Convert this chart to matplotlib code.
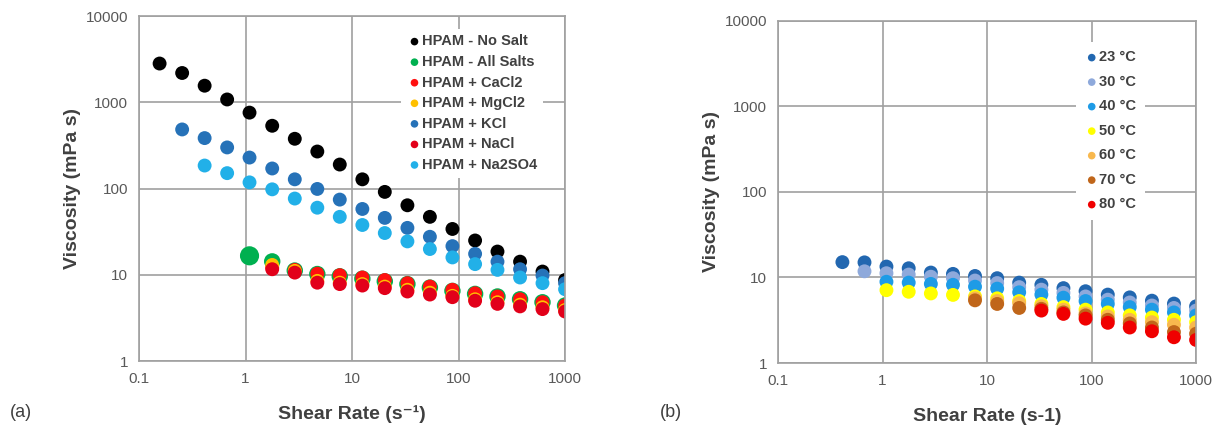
import matplotlib
matplotlib.use("Agg")
import matplotlib.pyplot as plt
from matplotlib.ticker import FixedLocator, FixedFormatter, NullLocator

plt.rcParams['font.family'] = ['Liberation Sans', 'DejaVu Sans']

# shear rates (s-1) used by the rheometer
shear = [0.156, 0.254, 0.413, 0.672, 1.09, 1.78, 2.90, 4.72, 7.67, 12.5,
         20.3, 33.1, 53.8, 87.6, 143, 232, 378, 614, 1000]

# ---- panel (a): HPAM with salts ----
no_salt = [2820, 2190, 1560, 1080, 760, 535, 378, 269, 190, 128,
           91.5, 64, 47, 34, 25, 18.6, 14.2, 10.9, 8.7]
all_salts = [16.6, 14.3, 11.2, 10.2, 9.6, 9.0, 8.4, 7.8, 7.1, 6.5,
             6.0, 5.6, 5.2, 4.8, 4.4]
cacl2 = [12.2, 11.4, 10.3, 9.9, 9.3, 8.7, 8.0, 7.3, 6.7, 6.1, 5.6, 5.2, 4.8, 4.4]
mgcl2 = [13.0, 11.1, 8.5, 8.1, 7.8, 7.3, 6.7, 6.2, 5.7, 5.2, 4.8, 4.5, 4.2, 3.9]
kcl = [485, 385, 300, 229, 171, 128, 99, 74.5, 58, 45.7,
       35, 27.6, 21.5, 17.5, 14.2, 11.6, 9.8, 8.0]
nacl = [11.6, 10.6, 8.1, 7.8, 7.5, 7.0, 6.4, 5.9, 5.5, 5.0, 4.6, 4.3, 4.0, 3.75]
na2so4 = [185, 151, 118, 98, 76.6, 60, 47, 37.8, 30.5, 24.4,
          19.9, 15.9, 13.3, 11.4, 9.3, 8.0, 6.8]

salt_series = [
    ("HPAM - No Salt", no_salt, "#000000"),
    ("HPAM - All Salts", all_salts, "#00B050"),
    ("HPAM + CaCl2", cacl2, "#FF1010"),
    ("HPAM + MgCl2", mgcl2, "#FFC000"),
    ("HPAM + KCl", kcl, "#2672B8"),
    ("HPAM + NaCl", nacl, "#E2001A"),
    ("HPAM + Na2SO4", na2so4, "#22B0E8"),
]

# ---- panel (b): temperature ----
t23 = [15.1, 15.0, 13.4, 12.8, 11.4, 11.0, 10.4, 9.8, 8.7, 8.2, 7.5, 6.9,
       6.3, 5.85, 5.35, 4.95, 4.6]
t30 = [11.8, 11.2, 10.8, 10.2, 9.8, 9.2, 8.6, 7.7, 7.2, 6.6, 6.0, 5.5, 5.1,
       4.7, 4.4, 4.1]
t40 = [8.9, 8.7, 8.4, 8.2, 7.8, 7.4, 6.7, 6.3, 5.8, 5.3, 4.9, 4.5, 4.2, 3.9, 3.6]
t50 = [7.1, 6.8, 6.5, 6.25, 6.0, 5.7, 5.3, 4.9, 4.5, 4.2, 3.9, 3.6, 3.4, 3.2, 3.0]
t60 = [5.7, 5.3, 5.0, 4.6, 4.2, 3.8, 3.5, 3.2, 3.0, 2.8, 2.6]
t70 = [5.4, 4.9, 4.4, 4.3, 3.9, 3.6, 3.2, 2.9, 2.6, 2.3, 2.2]
t80 = [4.1, 3.75, 3.3, 2.95, 2.6, 2.35, 2.0, 1.86]

temp_series = [
    ("23 °C", t23, "#2267B0"),
    ("30 °C", t30, "#8EA9DB"),
    ("40 °C", t40, "#1E9BE6"),
    ("50 °C", t50, "#FFFF00"),
    ("60 °C", t60, "#F8B84E"),
    ("70 °C", t70, "#C0661A"),
    ("80 °C", t80, "#F00000"),
]

grid_c = "#A0A0A0"
tick_c = "#595959"

fig = plt.figure(figsize=(12.26, 4.36), dpi=100)
ax1 = fig.add_axes([0.1134, 0.172, 0.3475, 0.791])
ax2 = fig.add_axes([0.6346, 0.1674, 0.341, 0.7851])


def style(ax):
    ax.set_xscale('log')
    ax.set_yscale('log')
    ax.set_xlim(0.1, 1000)
    ax.set_ylim(1, 10000)
    ax.xaxis.set_major_locator(FixedLocator([0.1, 1, 10, 100, 1000]))
    ax.xaxis.set_major_formatter(FixedFormatter(["0.1", "1", "10", "100", "1000"]))
    ax.yaxis.set_major_locator(FixedLocator([1, 10, 100, 1000, 10000]))
    ax.yaxis.set_major_formatter(FixedFormatter(["1", "10", "100", "1000", "10000"]))
    ax.xaxis.set_minor_locator(NullLocator())
    ax.yaxis.set_minor_locator(NullLocator())
    ax.tick_params(length=0, labelsize=11, labelcolor=tick_c, pad=8)
    ax.grid(True, color=grid_c, linewidth=1.2)
    ax.set_axisbelow(True)
    for s in ax.spines.values():
        s.set_color(grid_c)
        s.set_linewidth(1.2)
    ax.set_ylabel("Viscosity (mPa s)", fontsize=14, fontweight='bold',
                  color="#404040", labelpad=3)


# panel (a)
for name, vals, col in salt_series:
    xs = shear[len(shear) - len(vals):]
    sizes = [100] * len(vals)
    if name == "HPAM - All Salts":
        sizes = [190] + [140] * (len(vals) - 1)
    ax1.scatter(xs, vals, s=sizes, color=col, edgecolors='none', label=name)
style(ax1)
ax1.set_xlabel("Shear Rate (s⁻¹)", fontsize=14, fontweight='bold',
               color="#404040", labelpad=14)
leg1 = ax1.legend(loc='upper right', bbox_to_anchor=(0.965, 0.985), frameon=True,
                  facecolor='white', edgecolor='none', framealpha=1, fancybox=False,
                  handletextpad=0.0, handlelength=1.0,
                  labelspacing=0.45, borderpad=0.4, prop={'weight': 'bold', 'size': 10.5})
for h in leg1.legend_handles:
    h.set_sizes([30])
for t in leg1.get_texts():
    t.set_color("#404040")

# panel (b)
for name, vals, col in temp_series:
    xs = shear[len(shear) - len(vals):]
    ax2.scatter(xs, vals, s=100, color=col, edgecolors='none', label=name)
style(ax2)
ax2.set_xlabel("Shear Rate (s-1)", fontsize=14, fontweight='bold',
               color="#404040", labelpad=14)
leg2 = ax2.legend(loc='upper right', bbox_to_anchor=(0.895, 0.96), frameon=True,
                  facecolor='white', edgecolor='none', framealpha=1, fancybox=False,
                  handletextpad=0.0, handlelength=1.0,
                  labelspacing=0.72, borderpad=0.6, prop={'weight': 'bold', 'size': 10.5})
for h in leg2.legend_handles:
    h.set_sizes([30])
for t in leg2.get_texts():
    t.set_color("#404040")

fig.text(0.008, 0.053, "(a)", fontsize=13, color="#404040", va='center')
fig.text(0.538, 0.053, "(b)", fontsize=13, color="#404040", va='center')

fig.savefig("out.png", dpi=100)
